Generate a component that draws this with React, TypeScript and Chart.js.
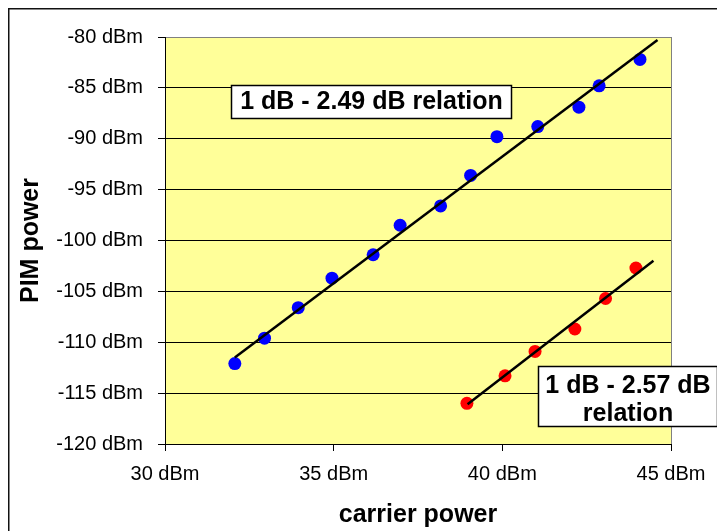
import React, { useEffect, useRef } from "react";
import { Chart, registerables } from "chart.js";

Chart.register(...registerables);

// ---- data ----
const blueX = [32.07, 32.95, 33.95, 34.95, 36.17, 36.97, 38.17, 39.06, 39.84, 41.05, 42.27, 42.87, 44.08];
const blueY = [-112.1, -109.6, -106.6, -103.7, -101.4, -98.5, -96.6, -93.6, -89.8, -88.8, -86.9, -84.8, -82.2];
const redX = [38.95, 40.08, 40.97, 42.15, 43.06, 43.96];
const redY = [-116.0, -113.3, -110.9, -108.7, -105.7, -102.7];
const blueFitX = [32.07, 44.6];
const blueFitY = [-111.5, -80.3];
const redFitX = [38.97, 44.48];
const redFitY = [-116.1, -102.0];

const xMin = 30, xMax = 45, xStep = 5;
const yMin = -120, yMax = -80, yStep = 5;
const xTitle = "carrier power";
const yTitle = "PIM power";
const note1 = ["1 dB - 2.49 dB relation"];
const note2 = ["1 dB - 2.57 dB", "relation"];

const FONT = "'Liberation Sans', Arial, Helvetica, sans-serif";
const W = 717, H = 523;

const toPts = (xs: number[], ys: number[]) => xs.map((x, i) => ({ x, y: ys[i] }));

const decorPlugin = {
  id: "decor",
  beforeDraw(chart: any) {
    const { ctx, chartArea: a } = chart;
    ctx.save();
    ctx.fillStyle = "#ffffff";
    ctx.fillRect(0, 0, chart.width, chart.height);
    // outer frame (left/top visible)
    ctx.strokeStyle = "#111";
    ctx.lineWidth = 1.5;
    ctx.beginPath();
    ctx.moveTo(0.75, chart.height);
    ctx.lineTo(0.75, 0.75);
    ctx.lineTo(chart.width, 0.75);
    ctx.stroke();
    // plot area background
    ctx.fillStyle = "#FFFF99";
    ctx.fillRect(a.left, a.top, a.right - a.left, a.bottom - a.top);
    ctx.restore();
  },
  afterDraw(chart: any) {
    const { ctx } = chart;
    const box = (x0: number, y0: number, x1: number, y1: number, lines: string[], cy: number[]) => {
      ctx.save();
      ctx.fillStyle = "#ffffff";
      ctx.fillRect(x0, y0, x1 - x0, y1 - y0);
      ctx.strokeStyle = "#000";
      ctx.lineWidth = 1.5;
      ctx.strokeRect(x0 + 0.5, y0 + 0.5, x1 - x0 - 1, y1 - y0 - 1);
      ctx.fillStyle = "#000";
      ctx.font = `bold 25px ${FONT}`;
      ctx.textAlign = "center";
      ctx.textBaseline = "middle";
      lines.forEach((t, i) => ctx.fillText(t, (x0 + x1) / 2, cy[i]));
      ctx.restore();
    };
    box(223, 77, 504, 111, note1, [94]);
    box(530, 358, 710, 419, note2, [378, 406]);
  },
};

export default function App() {
  const ref = useRef<HTMLCanvasElement | null>(null);
  useEffect(() => {
    document.body.style.overflow = "hidden";
    const canvas = ref.current!;
    const chart = new Chart(canvas, {
      type: "scatter",
      data: {
        datasets: [
          {
            type: "line",
            data: toPts(blueFitX, blueFitY),
            borderColor: "#000",
            borderWidth: 2.5,
            pointRadius: 0,
            order: 0,
          },
          {
            type: "line",
            data: toPts(redFitX, redFitY),
            borderColor: "#000",
            borderWidth: 2.5,
            pointRadius: 0,
            order: 0,
          },
          {
            data: toPts(blueX, blueY),
            backgroundColor: "#0000FF",
            borderWidth: 0,
            pointRadius: 6.5,
            order: 1,
          },
          {
            data: toPts(redX, redY),
            backgroundColor: "#FF0000",
            borderWidth: 0,
            pointRadius: 6.5,
            order: 1,
          },
        ],
      } as any,
      options: {
        animation: false,
        responsive: false,
        devicePixelRatio: 1,
        layout: { padding: { left: 0, top: 29, right: 54, bottom: 0 } },
        plugins: { legend: { display: false }, tooltip: { enabled: false } },
        scales: {
          x: {
            type: "linear",
            min: xMin,
            max: xMax,
            afterFit: (s: any) => { s.height = H - 436; },
            ticks: {
              stepSize: xStep,
              padding: 11,
              color: "#000",
              font: { family: FONT, size: 20 },
              callback: (v: any) => `${v} dBm`,
            },
            grid: {
              color: (c: any) => (c.tick && c.tick.value === xMax ? "#808080" : "rgba(0,0,0,0)"),
              tickColor: "#000",
              tickLength: 7,
              lineWidth: 1,
            },
            border: { display: true, color: "#000", width: 1 },
            title: {
              display: true,
              text: xTitle,
              color: "#000",
              font: { family: FONT, size: 25, weight: "bold" },
              padding: { top: 0, bottom: 1 },
            },
          },
          y: {
            type: "linear",
            min: yMin,
            max: yMax,
            afterFit: (s: any) => { s.width = 157; },
            ticks: {
              stepSize: yStep,
              padding: 15,
              color: "#000",
              font: { family: FONT, size: 20 },
              callback: (v: any) => `${v} dBm`,
            },
            grid: {
              color: (c: any) => (c.tick && c.tick.value === yMax ? "#808080" : "#000"),
              tickColor: "#000",
              tickLength: 7,
              lineWidth: 1,
            },
            border: { display: true, color: "#000", width: 1 },
            title: {
              display: true,
              text: yTitle,
              color: "#000",
              font: { family: FONT, size: 25, weight: "bold" },
              padding: { top: 8, bottom: 0 },
            },
          },
        },
      } as any,
      plugins: [decorPlugin],
    });
    return () => chart.destroy();
  }, []);
  return <canvas ref={ref} width={W} height={H} style={{ display: "block", width: W, height: H }} />;
}
